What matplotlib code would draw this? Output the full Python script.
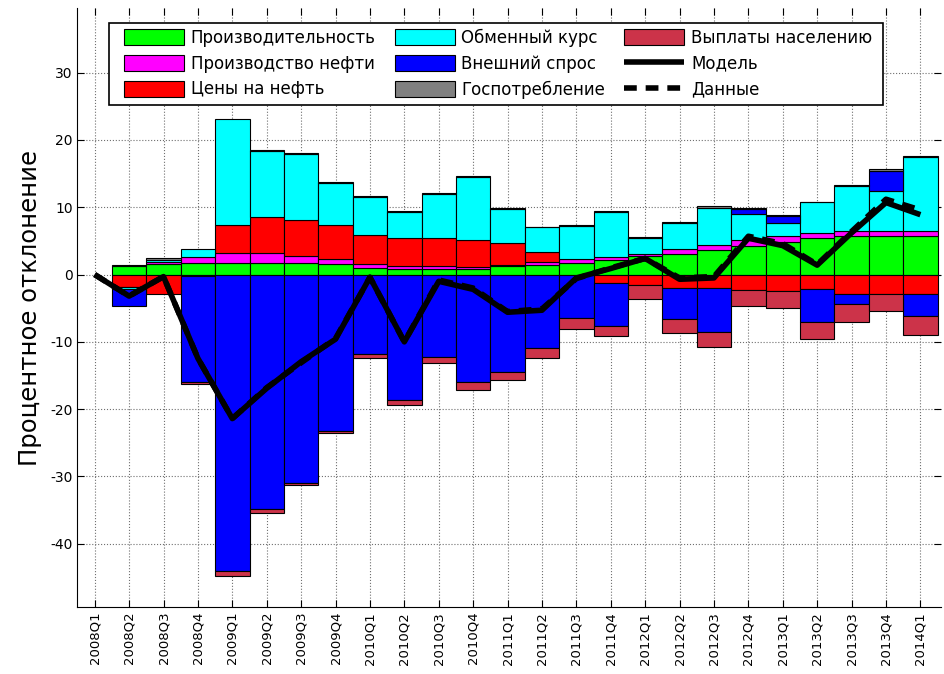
import numpy as np
import matplotlib
matplotlib.use("Agg")
import matplotlib.pyplot as plt

plt.rcParams['font.family'] = ['DejaVu Sans']
plt.rcParams['axes.unicode_minus'] = False

# Кварталы
kvartaly = ['2008Q1', '2008Q2', '2008Q3', '2008Q4',
            '2009Q1', '2009Q2', '2009Q3', '2009Q4',
            '2010Q1', '2010Q2', '2010Q3', '2010Q4',
            '2011Q1', '2011Q2', '2011Q3', '2011Q4',
            '2012Q1', '2012Q2', '2012Q3', '2012Q4',
            '2013Q1', '2013Q2', '2013Q3', '2013Q4',
            '2014Q1']

# Вклады факторов (процентные пункты)
proizvoditelnost = [0, 1.2, 1.6, 1.7, 1.7, 1.7, 1.7, 1.5, 0.95, 0.85, 0.85, 0.8, 1.2,
                    1.4, 1.65, 2.1, 2.7, 3.0, 3.6, 4.2, 4.8, 5.4, 5.7, 5.8, 5.7]
proizv_nefti = [0, 0, 0.3, 0.9, 1.5, 1.5, 1.1, 0.85, 0.6, 0.35, 0.35, 0.3, 0.25,
                0.4, 0.6, 0.45, 0.4, 0.8, 0.85, 1.0, 1.0, 0.85, 0.75, 0.65, 0.75]
ceny_nefti = [0, -1.8, -2.85, -0.2, 4.2, 5.4, 5.3, 5.05, 4.4, 4.3, 4.2, 4.0, 3.2,
              1.5, 0, -1.25, -1.6, -1.95, -1.95, -2.3, -2.4, -2.1, -2.85, -2.85, -2.85]
obmen_kurs = [0, -0.4, 0.3, 1.25, 15.7, 9.7, 9.8, 6.2, 5.6, 3.8, 6.6, 9.4, 5.1,
              3.7, 5.0, 6.8, 2.3, 3.9, 5.4, 3.85, 1.85, 4.5, 6.7, 6.0, 11.0]
vnesh_spros = [0, -2.45, 0, -15.7, -44.0, -34.8, -30.9, -23.3, -11.85, -18.7, -12.3, -16.0, -14.5,
               -10.9, -6.4, -6.35, 0, -4.65, -6.55, 0.7, 1.0, -4.9, -1.55, 2.95, -3.35]
gospotreb = [0, 0.2, 0.3, 0, 0, 0.2, 0.2, 0.1, 0.2, 0.15, 0.15, 0.1, 0.1,
             0.1, 0.1, 0.1, 0.15, 0.15, 0.35, 0.1, 0.15, 0.1, 0.1, 0.25, 0.2]
vyplaty = [0, 0, 0, -0.35, -0.8, -0.7, -0.4, -0.2, -0.6, -0.7, -0.9, -1.2, -1.2,
           -1.55, -1.7, -1.6, -2.05, -2.1, -2.3, -2.4, -2.6, -2.6, -2.6, -2.55, -2.8]

# Линии
model = [0, -3.2, -0.3, -12.45, -21.4, -16.9, -12.95, -9.6, -0.4, -10.0, -1.0, -2.2, -5.6,
         -5.3, -0.5, 0.9, 2.4, -0.7, -0.5, 5.4, 4.3, 1.4, 6.2, 10.7, 8.9]
dannye = [0, -3.2, -0.3, -12.45, -21.4, -16.8, -13.1, -9.5, -0.4, -10.0, -0.8, -2.0, -5.5,
          -5.1, -0.6, 1.0, 2.4, -0.5, -0.3, 5.7, 4.6, 1.5, 6.4, 11.2, 9.6]

faktory = [
    ('Производительность', proizvoditelnost, '#00ff00'),
    ('Производство нефти', proizv_nefti, '#ff00ff'),
    ('Цены на нефть', ceny_nefti, '#ff0000'),
    ('Обменный курс', obmen_kurs, '#00ffff'),
    ('Внешний спрос', vnesh_spros, '#0000ff'),
    ('Госпотребление', gospotreb, '#808080'),
    ('Выплаты населению', vyplaty, '#cc3349'),
]

W, H = 945, 674
fig = plt.figure(figsize=(W / 100, H / 100), dpi=100)
ax = fig.add_axes([0.082, 0.0994, 0.9138, 0.8886])

x = np.arange(len(kvartaly))
niz_pos = np.zeros(len(x))
niz_neg = np.zeros(len(x))
handles = []
for nazvanie, vals, cvet in faktory:
    v = np.array(vals, dtype=float)
    niz = np.where(v >= 0, niz_pos, niz_neg)
    m = v != 0
    ax.bar(x[m], v[m], bottom=niz[m], width=1.0, color=cvet,
           edgecolor='black', linewidth=0.8, zorder=2)
    handles.append(plt.Rectangle((0, 0), 1, 1, facecolor=cvet,
                                 edgecolor='black', linewidth=0.8, label=nazvanie))
    niz_pos = niz_pos + np.where(v > 0, v, 0)
    niz_neg = niz_neg + np.where(v < 0, v, 0)

l_model, = ax.plot(x, model, color='black', linewidth=4, zorder=4,
                   solid_capstyle='butt', label='Модель')
l_dannye, = ax.plot(x, dannye, color='black', linewidth=4, zorder=3,
                    linestyle=(0, (2.3, 1.6)), dash_capstyle='butt', label='Данные')
handles += [l_model, l_dannye]

ax.set_xlim(-0.5, 24.6)
ax.set_ylim(-49.4, 39.6)
ax.set_xticks(x)
ax.set_xticklabels(kvartaly, rotation=90, fontsize=9.5)
ax.set_yticks([-40, -30, -20, -10, 0, 10, 20, 30])
ax.tick_params(axis='y', labelsize=10)
ax.tick_params(direction='in', length=5, top=True, right=True, width=0.8)
ax.spines['top'].set_visible(False)
ax.spines['right'].set_visible(False)
ax.grid(True, linestyle=':', color='#707070', linewidth=0.8, zorder=0)
ax.set_axisbelow(True)

ax.set_ylabel('Процентное отклонение', fontsize=17.5, labelpad=6)

# рамка легенды
ramka = plt.Rectangle((109 / W, 1 - 105 / H), (883 - 109) / W, (105 - 22.7) / H,
                      transform=fig.transFigure, facecolor='white',
                      edgecolor='black', linewidth=1.2, zorder=5)
fig.patches.append(ramka)

leg = fig.legend(handles=handles, ncol=3, loc='upper left',
                 bbox_to_anchor=(124 / W, 1 - 28.5 / H), borderaxespad=0, fontsize=12,
                 handlelength=3.6, handleheight=1.1, handletextpad=0.4,
                 columnspacing=1.15, labelspacing=0.47, borderpad=0,
                 frameon=False)
leg.set_zorder(6)

fig.savefig('out.png', dpi=100)
